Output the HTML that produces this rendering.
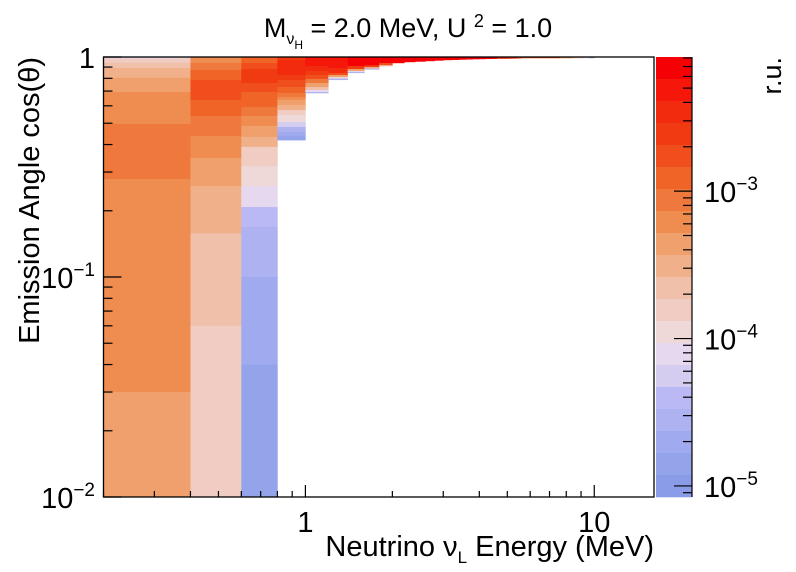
<!DOCTYPE html>
<html><head><meta charset="utf-8"><style>
html,body{margin:0;padding:0;background:#fff;}
svg{display:block;font-family:"Liberation Sans",sans-serif;}
</style></head><body>
<svg id="chart" width="796" height="572" viewBox="0 0 796 572" xmlns="http://www.w3.org/2000/svg">
<defs><clipPath id="plotclip"><rect x="103.5" y="57" width="550.5" height="440"/></clipPath></defs>
<g id="cells" clip-path="url(#plotclip)"></g>
<rect x="103.5" y="57" width="550.5" height="440" fill="none" stroke="#000" stroke-width="1.3"/>
<g id="axes"></g>
<g id="cbar"></g>
<text x="408" y="37" font-size="27" text-anchor="middle">M<tspan font-size="16" dy="7">ν</tspan><tspan font-size="12" dy="5">H</tspan><tspan dy="-12"> = 2.0 MeV, U </tspan><tspan font-size="18" dy="-10">2</tspan><tspan dy="10"> = 1.0</tspan></text>
<text x="654" y="556" font-size="29" text-anchor="end">Neutrino ν<tspan font-size="17" dy="7">L</tspan><tspan dy="-7"> Energy (MeV)</tspan></text>
<text transform="translate(39,57) rotate(-90)" font-size="29" text-anchor="end">Emission Angle cos(θ)</text>
<text transform="translate(781,57) rotate(-90)" font-size="27" text-anchor="end">r.u.</text>
</svg>
<script>
// ----- data -----
const energyBinEdges = [0.2,0.4,0.6,0.8,1.0,1.2,1.4,1.6,1.8,2.0];
const cosEdgesCols = [
 [1,0.986,0.942,0.891,0.805,0.693,0.496,0.279,0.030,0.01],
 [1,0.939,0.873,0.786,0.638,0.539,0.437,0.347,0.259,0.158,0.060,0.01],
 [1,0.939,0.882,0.762,0.693,0.593,0.539,0.486,0.433,0.39,0.319,0.259,0.208,0.169,0.1,0.04,0.01],
 [1,0.969,0.910,0.828,0.786,0.730,0.686,0.658,0.638,0.605,0.574,0.545,0.506,0.481,0.456,0.438,0.419],
 [1,0.910,0.864,0.828,0.794,0.762,0.730,0.708,0.693,0.686],
 [1,0.891,0.846,0.828,0.811,0.798,0.788],
 [1,0.910,0.882,0.864,0.855,0.848],
 [1,0.918,0.900,0.886,0.879],
 [1,0.939,0.918,0.910]
];
const log10ContentCols = [
 [-4.10,-3.81,-3.66,-3.51,-3.36,-3.21,-3.06,-3.21,-3.36],
 [-3.21,-3.06,-2.91,-2.76,-2.91,-3.06,-3.21,-3.36,-3.51,-3.66,-3.81],
 [-2.91,-2.76,-2.61,-2.76,-2.91,-3.06,-3.21,-3.36,-3.51,-3.81,-3.96,-4.10,-4.40,-4.55,-4.70,-4.85],
 [-2.61,-2.46,-2.46,-2.61,-2.76,-2.91,-3.06,-3.21,-3.36,-3.51,-3.81,-3.96,-4.25,-4.55,-4.70,-4.85],
 [-2.31,-2.46,-2.61,-2.76,-3.06,-3.36,-3.66,-4.10,-4.55],
 [-2.31,-2.46,-2.76,-3.36,-3.96,-4.55],
 [-2.16,-2.61,-3.36,-4.10,-4.55],
 [-2.16,-2.61,-3.51,-4.55],
 [-2.16,-2.76,-3.66]
];
const stripStartE = 2.0, stripBinW = 0.2;
const stripBottomCos = [0.94,0.95,0.955,0.96,0.965,0.97,0.972,0.975,0.977,0.979,0.98,0.982,0.983,0.984,0.984,0.985,0.986,0.987,0.99,0.99,0.99,0.99,0.99,0.99,0.99,0.99,0.99,0.99,0.99,0.99,0.99,0.99,0.99,0.99,0.99,0.99,0.99,0.99,0.99,0.99];
const stripLog10 = [-2.16,-2.16,-2.16,-2.16,-2.16,-2.16,-2.16,-2.16,-2.16,-2.16,-2.16,-2.16,-2.16,-2.46,-2.46,-2.46,-2.46,-2.76,-2.76,-2.76,-2.76,-2.76,-2.76,-2.76,-2.76,-2.76,-2.76,-2.76,-3.21,-3.21,-3.21,-3.21,-3.66,-3.66,-3.66,-3.66,-4.10,-4.10,-4.55,-4.55];
const xTickMajor = [1,10];
const xTickLabels = ["1","10"];
const yTickMajor = [1,0.1,0.01];
const yTickLabels = [["1",""],["10","−1"],["10","−2"]];
const zTickMajor = [-3,-4,-5];
const palette = ["#f50005","#f5170a","#f22a0e","#f03a12","#f04e1c","#f06428","#ef783c","#ef8c50","#f0a06c","#f0b08a","#f0c0aa","#f0ccc2","#eed8d8","#e6d8ee","#d4cdf0","#bbb9f5","#aeb2f0","#a0aaee","#94a4ea","#8a9ce8"];
// ----- scales -----
const X0=103.5, X1=654, Y0=57, Y1=497;
const lxmin=Math.log10(0.2), lxmax=Math.log10(16.1);
const xs = e => X0 + (Math.log10(e)-lxmin)/(lxmax-lxmin)*(X1-X0);
const ys = c => Y0 + (0-Math.log10(c))/2*(Y1-Y0);
const zTop=-2.09, zBot=-5.075, CB0=656, CB1=692;
const zs = lv => Y0 + (zTop-lv)/(zTop-zBot)*(Y1-Y0);
function colorOf(lv){let k=Math.floor((zTop-lv)/((zTop-zBot)/20));k=Math.max(0,Math.min(19,k));return palette[k];}
const NS="http://www.w3.org/2000/svg";
function mk(tag,attrs,parent){const el=document.createElementNS(NS,tag);for(const k in attrs)el.setAttribute(k,attrs[k]);parent.appendChild(el);return el;}
const cells=document.getElementById('cells');
function cell(e0,e1,c0,c1,lv){
  const y0=ys(c0), y1=ys(c1);
  const r=mk('rect',{x:xs(e0),y:y0,width:xs(e1)-xs(e0)+0.3,height:y1-y0+0.3,fill:colorOf(lv)},cells);
  
  
}
cosEdgesCols.forEach((edges,i)=>{
  const vals=log10ContentCols[i];
  for(let j=0;j<vals.length;j++) cell(energyBinEdges[i],energyBinEdges[i+1],edges[j],edges[j+1],vals[j]);
});
stripBottomCos.forEach((bc,i)=>{
  const e0=stripStartE+i*stripBinW;
  cell(e0,e0+stripBinW,1,bc,stripLog10[i]);
});
// ----- axes -----
const ax=document.getElementById('axes');
function line(x1,y1,x2,y2,p,name){const l=mk('line',{x1,y1,x2,y2,stroke:'#000','stroke-width':1.2},p);}
for(let d=-1;d<=1;d++)for(let m=1;m<10;m++){
  const e=m*Math.pow(10,d); if(e<0.2||e>16.1)continue;
  const x=xs(e); line(x,Y1,x,Y1-(m===1?12:6),ax,'x-tick');
}
xTickMajor.forEach((e,i)=>{const t=mk('text',{x:xs(e),y:532,'font-size':29,'text-anchor':'middle'},ax);t.textContent=xTickLabels[i];});
for(let d=-2;d<=0;d++)for(let m=1;m<10;m++){
  const c=m*Math.pow(10,d); if(c>1)continue;
  const y=ys(c); line(X0,y,X0+(m===1?18:9),y,ax,'y-tick');
}
yTickMajor.forEach((c,i)=>{
  const t=mk('text',{x:95,y:ys(c)+11,'font-size':29,'text-anchor':'end'},ax);
  
  if(yTickLabels[i][1]){t.innerHTML='10<tspan font-size="19" dy="-12">'+yTickLabels[i][1]+'</tspan>';}
  else t.textContent=yTickLabels[i][0];
});
// ----- color bar -----
const cb=document.getElementById('cbar');
for(let k=0;k<20;k++){
  const h=(Y1-Y0)/20;
  const r=mk('rect',{x:CB0,y:Y0+k*h,width:CB1-CB0,height:h+0.3,fill:palette[k]},cb);
  
}
line(CB1,Y0,CB1,Y1,cb,'color-bar-axis');
for(let d=-6;d<=-2;d++)for(let m=1;m<10;m++){
  const lv=Math.log10(m)+d; if(lv>zTop||lv<zBot)continue;
  const y=zs(lv); line(CB1,y,CB1-(m===1?18:9),y,cb,'color-bar-tick');
}
zTickMajor.forEach(z=>{
  const t=mk('text',{x:704,y:zs(z)+11,'font-size':29},cb);
  t.innerHTML='10<tspan font-size="19" dy="-12">−'+(-z)+'</tspan>';
  
});
</script>
</body></html>
